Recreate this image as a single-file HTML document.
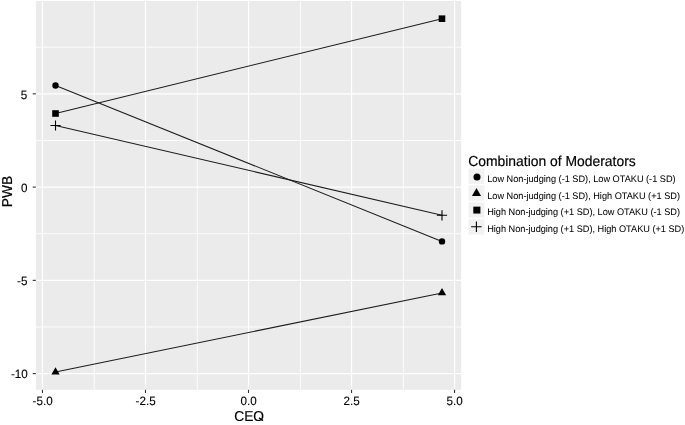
<!DOCTYPE html><html><head><meta charset="utf-8"><style>html,body{margin:0;padding:0;background:#fff;}svg{display:block;will-change:transform;}text{text-rendering:geometricPrecision;font-family:"Liberation Sans",sans-serif;fill:#000;stroke:#000;stroke-width:0.18px;}text.s{stroke-width:0.04px;}text.m{stroke-width:0.12px;}</style></head><body>
<svg width="685" height="425" viewBox="0 0 685 425">
<rect x="0" y="0" width="685" height="425" fill="#fff"/>
<rect x="35.9" y="1.0" width="425.20" height="388.80" fill="#EBEBEB"/>
<line x1="94.27" y1="1.0" x2="94.27" y2="389.8" stroke="#fff" stroke-width="0.85"/>
<line x1="197.30" y1="1.0" x2="197.30" y2="389.8" stroke="#fff" stroke-width="0.85"/>
<line x1="300.32" y1="1.0" x2="300.32" y2="389.8" stroke="#fff" stroke-width="0.85"/>
<line x1="403.35" y1="1.0" x2="403.35" y2="389.8" stroke="#fff" stroke-width="0.85"/>
<line x1="35.9" y1="47.22" x2="461.1" y2="47.22" stroke="#fff" stroke-width="0.85"/>
<line x1="35.9" y1="140.47" x2="461.1" y2="140.47" stroke="#fff" stroke-width="0.85"/>
<line x1="35.9" y1="233.72" x2="461.1" y2="233.72" stroke="#fff" stroke-width="0.85"/>
<line x1="35.9" y1="326.98" x2="461.1" y2="326.98" stroke="#fff" stroke-width="0.85"/>
<line x1="42.46" y1="1.0" x2="42.46" y2="389.8" stroke="#fff" stroke-width="1.2"/>
<line x1="145.48" y1="1.0" x2="145.48" y2="389.8" stroke="#fff" stroke-width="1.2"/>
<line x1="248.51" y1="1.0" x2="248.51" y2="389.8" stroke="#fff" stroke-width="1.2"/>
<line x1="351.53" y1="1.0" x2="351.53" y2="389.8" stroke="#fff" stroke-width="1.2"/>
<line x1="454.56" y1="1.0" x2="454.56" y2="389.8" stroke="#fff" stroke-width="1.2"/>
<line x1="35.9" y1="93.85" x2="461.1" y2="93.85" stroke="#fff" stroke-width="1.2"/>
<line x1="35.9" y1="187.10" x2="461.1" y2="187.10" stroke="#fff" stroke-width="1.2"/>
<line x1="35.9" y1="280.35" x2="461.1" y2="280.35" stroke="#fff" stroke-width="1.2"/>
<line x1="35.9" y1="373.60" x2="461.1" y2="373.60" stroke="#fff" stroke-width="1.2"/>
<line x1="55.52" y1="85.49" x2="441.99" y2="241.39" stroke="#1c1c1c" stroke-width="1.05"/>
<line x1="55.52" y1="372.00" x2="441.99" y2="292.90" stroke="#1c1c1c" stroke-width="1.05"/>
<line x1="55.52" y1="113.51" x2="441.99" y2="18.69" stroke="#1c1c1c" stroke-width="1.05"/>
<line x1="55.52" y1="125.50" x2="441.99" y2="215.30" stroke="#1c1c1c" stroke-width="1.05"/>
<circle cx="55.52" cy="85.49" r="3.20" fill="#000"/>
<circle cx="441.99" cy="241.39" r="3.20" fill="#000"/>
<polygon points="55.52,367.18 59.70,374.41 51.35,374.41" fill="#000"/>
<polygon points="441.99,288.08 446.17,295.31 437.82,295.31" fill="#000"/>
<rect x="52.22" y="110.21" width="6.60" height="6.60" fill="#000"/>
<rect x="438.69" y="15.39" width="6.60" height="6.60" fill="#000"/>
<path d="M50.42 125.50H60.62M55.52 120.40V130.60" stroke="#000" stroke-width="1.1" fill="none"/>
<path d="M436.89 215.30H447.09M441.99 210.20V220.40" stroke="#000" stroke-width="1.1" fill="none"/>
<line x1="32.7" y1="93.85" x2="35.9" y2="93.85" stroke="#333" stroke-width="1.1"/>
<line x1="32.7" y1="187.10" x2="35.9" y2="187.10" stroke="#333" stroke-width="1.1"/>
<line x1="32.7" y1="280.35" x2="35.9" y2="280.35" stroke="#333" stroke-width="1.1"/>
<line x1="32.7" y1="373.60" x2="35.9" y2="373.60" stroke="#333" stroke-width="1.1"/>
<line x1="42.46" y1="389.8" x2="42.46" y2="393.00" stroke="#333" stroke-width="1.1"/>
<line x1="145.48" y1="389.8" x2="145.48" y2="393.00" stroke="#333" stroke-width="1.1"/>
<line x1="248.51" y1="389.8" x2="248.51" y2="393.00" stroke="#333" stroke-width="1.1"/>
<line x1="351.53" y1="389.8" x2="351.53" y2="393.00" stroke="#333" stroke-width="1.1"/>
<line x1="454.56" y1="389.8" x2="454.56" y2="393.00" stroke="#333" stroke-width="1.1"/>
<text class="m" transform="translate(27.30,99.05) scale(1,1.04)" font-size="11.65" text-anchor="end">5</text>
<text class="m" transform="translate(27.40,192.20) scale(1,1.04)" font-size="11.65" text-anchor="end">0</text>
<text class="m" transform="translate(27.40,285.05) scale(1,1.04)" font-size="11.65" text-anchor="end">-5</text>
<text class="m" transform="translate(27.80,377.90) scale(1,1.04)" font-size="11.65" text-anchor="end">-10</text>
<text class="m" transform="translate(42.61,404.60) scale(1,1.04)" font-size="11.65" text-anchor="middle">-5.0</text>
<text class="m" transform="translate(145.63,404.60) scale(1,1.04)" font-size="11.65" text-anchor="middle">-2.5</text>
<text class="m" transform="translate(248.66,404.60) scale(1,1.04)" font-size="11.65" text-anchor="middle">0.0</text>
<text class="m" transform="translate(351.68,404.60) scale(1,1.04)" font-size="11.65" text-anchor="middle">2.5</text>
<text class="m" transform="translate(454.71,404.60) scale(1,1.04)" font-size="11.65" text-anchor="middle">5.0</text>
<defs><clipPath id="qc"><rect x="-40" y="-20" width="80" height="20.35"/></clipPath></defs>
<text transform="translate(249.10,420.60) scale(1,1.04)" font-size="13.75" text-anchor="middle" clip-path="url(#qc)">CEQ</text>
<path d="M259.0 417.9L263.0 420.6" stroke="#000" stroke-width="1.35" fill="none"/>
<text transform="translate(11.60,191.60) rotate(-90) scale(1,1.04)" font-size="13.75" text-anchor="middle">PWB</text>
<text transform="translate(468.20,165.60) scale(1,1.04)" font-size="13.9">Combination of Moderators</text>
<rect x="468.5" y="168.50" width="15.9" height="15.3" fill="#F2F2F2"/>
<circle cx="477.00" cy="177.00" r="3.52" fill="#000"/>
<text class="s" transform="translate(487.20,182.20) scale(1,1.04)" font-size="9.18">Low Non-judging (-1 SD), Low OTAKU (-1 SD)</text>
<rect x="468.5" y="185.40" width="15.9" height="15.3" fill="#F2F2F2"/>
<polygon points="476.50,188.10 481.09,196.05 471.91,196.05" fill="#000"/>
<text class="s" transform="translate(487.20,198.90) scale(1,1.04)" font-size="9.18">Low Non-judging (-1 SD), High OTAKU (+1 SD)</text>
<rect x="468.5" y="202.30" width="15.9" height="15.3" fill="#F2F2F2"/>
<rect x="473.30" y="206.65" width="7.1" height="6.9" fill="#000"/>
<text class="s" transform="translate(487.20,215.40) scale(1,1.04)" font-size="9.18">High Non-judging (+1 SD), Low OTAKU (-1 SD)</text>
<rect x="468.5" y="219.20" width="15.9" height="15.3" fill="#F2F2F2"/>
<path d="M471.15 226.70H481.65M476.40 221.45V231.95" stroke="#000" stroke-width="1.1" fill="none"/>
<text class="s" transform="translate(487.20,232.10) scale(1,1.04)" font-size="9.18">High Non-judging (+1 SD), High OTAKU (+1 SD)</text>
</svg></body></html>
